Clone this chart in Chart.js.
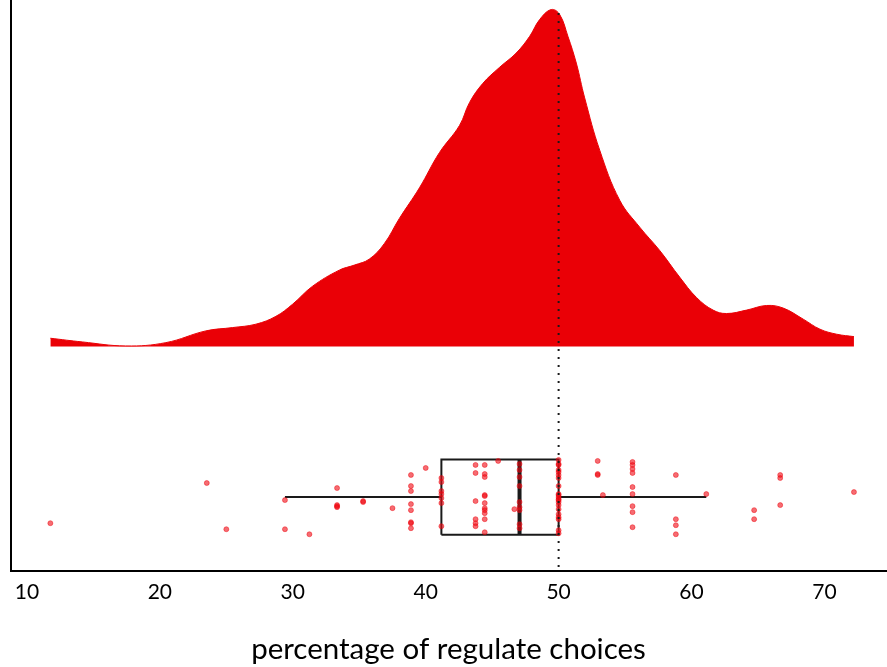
<!DOCTYPE html>
<html>
<head>
<meta charset="utf-8">
<script src="https://cdn.jsdelivr.net/npm/chart.js@4"></script>
<style>
  html, body { margin: 0; padding: 0; background: #fff; }
</style>
</head>
<body>
<canvas id="rain" width="887" height="667"></canvas>
<script>
// Raincloud: half density on top, box plot + jittered raw points underneath
const xTicks = [10, 20, 30, 40, 50, 60, 70];

// density outline (x = percentage, h = height above the cloud baseline)
const densityX = [11.76, 14.17, 17.43, 20.45, 23.46, 25.47, 27.23, 28.73, 29.98, 31.49, 33.50, 34.63,
  35.76, 36.89, 38.02, 39.53, 41.03, 42.54, 43.30, 44.30, 45.56, 46.81, 47.82, 48.57, 49.45, 50.08,
  50.70, 51.33, 51.96, 53.09, 54.60, 56.10, 57.61, 59.12, 60.37, 61.62, 62.63, 64.14, 65.65, 66.90,
  68.40, 69.66, 70.92, 72.22];
const densityH = [0.082, 0.045, 0.005, 0.038, 0.155, 0.188, 0.222, 0.30, 0.42, 0.60, 0.76, 0.81,
  0.87, 1.025, 1.275, 1.58, 1.93, 2.2, 2.43, 2.62, 2.78, 2.922, 3.088, 3.255, 3.355, 3.305,
  3.088, 2.822, 2.475, 1.955, 1.455, 1.188, 0.955, 0.688, 0.488, 0.362, 0.328, 0.362, 0.408, 0.382,
  0.272, 0.172, 0.122, 0.098];

// raw scores and their vertical jitter around the box
const pointValues = [
  11.76, 23.53, 25.0, 29.41, 29.41, 31.25,
  33.33, 33.33, 33.33, 33.33, 35.29, 35.29, 37.5,
  38.89, 38.89, 38.89, 38.89, 38.89, 38.89, 38.89, 38.89, 40.0,
  41.18, 41.18, 41.18, 41.18, 41.18, 41.18, 41.18,
  43.75, 43.75, 43.75, 43.75, 43.75, 43.75,
  44.44, 44.44, 44.44, 44.44, 44.44, 44.44, 44.44, 44.44, 44.44, 44.44, 44.44,
  45.45, 46.67,
  47.06, 47.06, 47.06, 47.06, 47.06, 47.06, 47.06, 47.06, 47.06,
  50, 50, 50, 50, 50, 50, 50, 50, 50, 50, 50, 50, 50, 50, 50, 50, 50, 50, 50, 50, 50,
  52.94, 52.94, 52.94, 53.33,
  55.56, 55.56, 55.56, 55.56, 55.56, 55.56, 55.56, 55.56, 55.56,
  58.82, 58.82, 58.82, 58.82, 61.11, 64.71, 64.71, 66.67, 66.67, 66.67, 72.22
];
const pointJitter = [
  -0.26, 0.14, -0.32, -0.03, -0.32, -0.37,
  0.09, -0.08, -0.09, -0.10, -0.05, -0.04, -0.11,
  0.22, 0.11, 0.06, -0.07, -0.13, -0.25, -0.26, -0.31, 0.29,
  0.19, 0.15, 0.06, 0.03, -0.01, -0.06, -0.29,
  0.32, 0.24, -0.04, -0.22, -0.26, -0.29,
  0.32, 0.23, 0.20, 0.02, 0.01, -0.06, -0.11, -0.13, -0.16, -0.22, -0.35,
  0.36, -0.12,
  0.33, 0.27, 0.20, 0.11, -0.05, -0.10, -0.13, -0.27, -0.31,
  0.37, 0.33, 0.32, 0.27, 0.25, 0.22, 0.19, 0.11, 0.03, 0.02, 0.00, -0.02, -0.03, -0.05, -0.08, -0.12, -0.17, -0.20, -0.22, -0.33, -0.36,
  0.36, 0.23, 0.22, 0.02,
  0.35, 0.32, 0.28, 0.24, 0.10, 0.03, -0.09, -0.15, -0.30,
  0.22, -0.22, -0.28, -0.37, 0.03, -0.22, -0.13, 0.22, 0.19, -0.08, 0.05
];

// whisker low, Q1, median, Q3, whisker high
const boxStats = [29.41, 41.18, 47.06, 50, 61.11];
const refLine = 50;

const cloudBase = 1.5, boxHalf = 0.375;
const yMin = -0.74, yMax = 4.95;
const RED = '#ea0006';
const FONT = 'Lato, "Open Sans", sans-serif';

const [wLo, q1, med, q3, wHi] = boxStats;
const seg = (pts, width, order, dash) => ({
  type: 'line', data: pts, borderColor: '#1a1a1a', borderWidth: width, borderDash: dash || [],
  pointRadius: 0, fill: false, tension: 0, order, borderJoinStyle: 'miter', borderCapStyle: 'butt'
});

new Chart(document.getElementById('rain'), {
  data: {
    datasets: [
      seg([{ x: refLine, y: 4.82 }, { x: refLine, y: yMin }], 2, 0, [2, 6]),
      {
        type: 'scatter',
        data: pointValues.map((v, i) => ({ x: v, y: pointJitter[i] })),
        pointRadius: 2.5, pointBackgroundColor: 'rgba(238,10,20,0.6)',
        pointBorderColor: 'rgba(238,0,10,0.55)', pointBorderWidth: 0.8, order: 1
      },
      seg([{ x: q1, y: -boxHalf }, { x: q3, y: -boxHalf }, { x: q3, y: boxHalf }, { x: q1, y: boxHalf }, { x: q1, y: -boxHalf }], 2, 2),
      seg([{ x: med, y: -boxHalf }, { x: med, y: boxHalf }], 4, 2),
      seg([{ x: wLo, y: 0 }, { x: q1, y: 0 }], 2, 2),
      seg([{ x: q3, y: 0 }, { x: wHi, y: 0 }], 2, 2),
      {
        type: 'line',
        data: densityX.map((x, i) => ({ x, y: cloudBase + densityH[i] })),
        borderColor: RED, borderWidth: 1, backgroundColor: RED,
        fill: { value: cloudBase }, tension: 0.4, pointRadius: 0, order: 3
      }
    ]
  },
  options: {
    responsive: false,
    animation: false,
    devicePixelRatio: 1,
    // axes run right to the canvas edge, no room kept for point overflow
    layout: { autoPadding: false, padding: { left: 11, right: 1, top: 0, bottom: 0 } },
    plugins: { legend: { display: false }, tooltip: { enabled: false } },
    scales: {
      x: {
        type: 'linear', min: 8.8, max: 74.63,
        grid: { display: false, drawTicks: false },
        border: { color: '#000', width: 2 },
        afterBuildTicks: s => { s.ticks = xTicks.map(v => ({ value: v })); },
        ticks: { color: '#000', font: { family: FONT, size: 21 }, padding: 8 },
        title: {
          display: true, text: 'percentage of regulate choices', color: '#000',
          font: { family: FONT, size: 29.5 }, padding: { top: 19, bottom: 0 }
        }
      },
      y: {
        type: 'linear', min: yMin, max: yMax,
        grid: { display: false, drawTicks: false },
        border: { color: '#000', width: 2 },
        ticks: { display: false }
      }
    }
  }
});
</script>
</body>
</html>
